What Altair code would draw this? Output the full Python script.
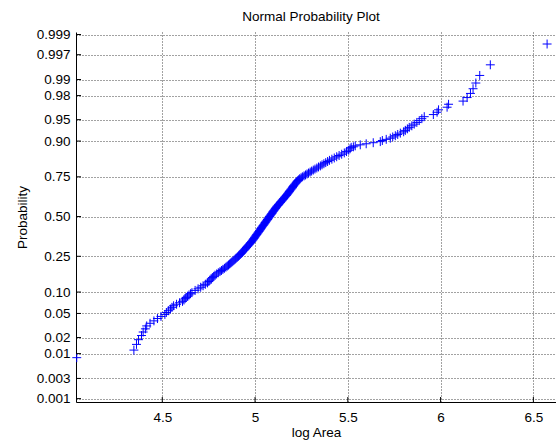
import altair as alt
import pandas as pd
from statistics import NormalDist

# ---- data (sorted sample values and their plotted probabilities) ----
lower_tail_x = [4.039, 4.347, 4.361, 4.372, 4.388, 4.397, 4.409, 4.416, 4.434, 4.455,
                4.474, 4.493, 4.514, 4.522, 4.533, 4.544, 4.552, 4.561, 4.577, 4.593,
                4.609, 4.617, 4.623, 4.628, 4.636, 4.644, 4.652, 4.660]
lower_tail_p = [0.0083, 0.0117, 0.0150, 0.0183, 0.0217, 0.0250, 0.0283, 0.0317, 0.0350, 0.0383,
                0.0417, 0.0450, 0.0483, 0.0517, 0.0550, 0.0583, 0.0617, 0.0650, 0.0683, 0.0717,
                0.0750, 0.0783, 0.0817, 0.0850, 0.0883, 0.0917, 0.0950, 0.0983]

middle_x = [4.693, 4.720, 4.744, 4.757, 4.770, 4.784, 4.802, 4.819, 4.835, 4.850,
            4.863, 4.875, 4.887, 4.898, 4.910, 4.920, 4.929, 4.937, 4.946, 4.954,
            4.962, 4.970, 4.977, 4.985, 4.991, 4.997, 5.003, 5.009, 5.015, 5.021,
            5.027, 5.032, 5.038, 5.044, 5.050, 5.055, 5.061, 5.067, 5.072, 5.078,
            5.084, 5.090, 5.095, 5.101, 5.107, 5.113, 5.119, 5.126, 5.133, 5.140,
            5.147, 5.154, 5.161, 5.169, 5.175, 5.182, 5.188, 5.195, 5.202, 5.208,
            5.216, 5.223, 5.231, 5.241, 5.255, 5.272, 5.288, 5.305, 5.323, 5.342,
            5.361, 5.381, 5.401, 5.427, 5.453, 5.481, 5.505, 5.518]
middle_p = [0.11, 0.12, 0.13, 0.14, 0.15, 0.16, 0.17, 0.18, 0.19, 0.20,
            0.21, 0.22, 0.23, 0.24, 0.25, 0.26, 0.27, 0.28, 0.29, 0.30,
            0.31, 0.32, 0.33, 0.34, 0.35, 0.36, 0.37, 0.38, 0.39, 0.40,
            0.41, 0.42, 0.43, 0.44, 0.45, 0.46, 0.47, 0.48, 0.49, 0.50,
            0.51, 0.52, 0.53, 0.54, 0.55, 0.56, 0.57, 0.58, 0.59, 0.60,
            0.61, 0.62, 0.63, 0.64, 0.65, 0.66, 0.67, 0.68, 0.69, 0.70,
            0.71, 0.72, 0.73, 0.74, 0.75, 0.76, 0.77, 0.78, 0.79, 0.80,
            0.81, 0.82, 0.83, 0.84, 0.85, 0.86, 0.87, 0.88]

middle2_x = [4.677, 4.707, 4.732, 4.751, 4.764, 4.777, 4.793, 4.811, 4.827, 4.843,
             4.857, 4.869, 4.881, 4.893, 4.904, 4.915, 4.925, 4.933, 4.942, 4.950,
             4.958, 4.966, 4.974, 4.981, 4.988, 4.994, 5.000, 5.006, 5.012, 5.018,
             5.024, 5.030, 5.035, 5.041, 5.047, 5.053, 5.058, 5.064, 5.070, 5.075,
             5.081, 5.087, 5.093, 5.098, 5.104, 5.110, 5.116, 5.123, 5.130, 5.137,
             5.144, 5.151, 5.158, 5.165, 5.172, 5.179, 5.185, 5.192, 5.199, 5.205,
             5.212, 5.220, 5.227, 5.236, 5.248, 5.264, 5.280, 5.297, 5.314, 5.333,
             5.352, 5.371, 5.391, 5.414, 5.440, 5.467, 5.493, 5.512]
middle2_p = [0.105, 0.115, 0.125, 0.135, 0.145, 0.155, 0.165, 0.175, 0.185, 0.195,
             0.205, 0.215, 0.225, 0.235, 0.245, 0.255, 0.265, 0.275, 0.285, 0.295,
             0.305, 0.315, 0.325, 0.335, 0.345, 0.355, 0.365, 0.375, 0.385, 0.395,
             0.405, 0.415, 0.425, 0.435, 0.445, 0.455, 0.465, 0.475, 0.485, 0.495,
             0.505, 0.515, 0.525, 0.535, 0.545, 0.555, 0.565, 0.575, 0.585, 0.595,
             0.605, 0.615, 0.625, 0.635, 0.645, 0.655, 0.665, 0.675, 0.685, 0.695,
             0.705, 0.715, 0.725, 0.735, 0.745, 0.755, 0.765, 0.775, 0.785, 0.795,
             0.805, 0.815, 0.825, 0.835, 0.845, 0.855, 0.865, 0.875]

upper_tail_x = [5.530, 5.540, 5.567, 5.599, 5.637, 5.675, 5.686, 5.707, 5.729, 5.742,
                5.756, 5.769, 5.783, 5.801, 5.810, 5.821, 5.831, 5.845, 5.858, 5.872,
                5.885, 5.899, 5.912, 5.961, 5.981, 5.989, 6.035, 6.043, 6.121, 6.143,
                6.161, 6.175, 6.190, 6.211, 6.268, 6.574]
upper_tail_p = [0.8817, 0.8850, 0.8883, 0.8917, 0.8950, 0.8983, 0.9017, 0.9050, 0.9083, 0.9117,
                0.9150, 0.9183, 0.9217, 0.9250, 0.9283, 0.9317, 0.9350, 0.9383, 0.9417, 0.9450,
                0.9483, 0.9517, 0.9550, 0.9583, 0.9617, 0.9650, 0.9683, 0.9717, 0.9750, 0.9783,
                0.9817, 0.9850, 0.9883, 0.9917, 0.9950, 0.9983]

prob_ticks = [0.001, 0.003, 0.01, 0.02, 0.05, 0.10, 0.25, 0.50, 0.75, 0.90,
              0.95, 0.98, 0.99, 0.997, 0.999]
x_ticks = [4.5, 5, 5.5, 6, 6.5]

# ---- build tables ----
df = pd.DataFrame({
    "log_area": lower_tail_x + middle_x + middle2_x + upper_tail_x,
    "probability": lower_tail_p + middle_p + middle2_p + upper_tail_p,
})
nd = NormalDist()
z_ticks = [nd.inv_cdf(p) for p in prob_ticks]
ticks_y = pd.DataFrame({"p": prob_ticks})
ticks_x = pd.DataFrame({"v": x_ticks})

FONT = "Liberation Sans"
FS = 13.5
xscale = alt.Scale(domain=[4.035, 6.622], nice=False, zero=False)
yscale = alt.Scale(domain=[-3.148, 3.133], nice=False, zero=False)

label_expr = ("(cumulativeNormal(datum.value) < 0.005 || cumulativeNormal(datum.value) > 0.995) ? "
              "format(cumulativeNormal(datum.value), '.3f') : format(cumulativeNormal(datum.value), '.2f')")

common_axis = dict(
    grid=True, gridDash=[1, 2], gridColor="#444444", gridWidth=1,
    ticks=False, domainColor="black", domainWidth=1,
    labelFont=FONT, labelFontSize=FS, labelColor="black",
    titleFont=FONT, titleFontSize=FS, titleFontWeight="normal", titleColor="black",
    titleBaseline="alphabetic",
)

x_axis = alt.Axis(values=x_ticks, format="~g", title="log Area", titleY=34,
                  labelPadding=8, **common_axis)
y_axis = alt.Axis(values=z_ticks, labelExpr=label_expr, title="Probability",
                  labelPadding=6, titleX=-50, titleY=185, titleAngle=270,
                  titleAlign="center", **common_axis)

points = alt.Chart(df).transform_calculate(
    z="quantileNormal(datum.probability)"
).mark_point(
    shape="M-1,0L1,0M0,-1L0,1", filled=False, color="#0000ff",
    strokeWidth=1, size=80, opacity=1,
).encode(
    x=alt.X("log_area:Q", scale=xscale, axis=x_axis),
    y=alt.Y("z:Q", scale=yscale, axis=y_axis),
)

ytick = alt.Chart(ticks_y).transform_calculate(
    z="quantileNormal(datum.p)"
).mark_rule(color="black", strokeWidth=1).encode(
    y=alt.Y("z:Q", scale=yscale, axis=y_axis),
    x=alt.value(0), x2=alt.value(5),
)

xtick = alt.Chart(ticks_x).mark_rule(color="black", strokeWidth=1).encode(
    x=alt.X("v:Q", scale=xscale, axis=x_axis),
    y=alt.value(370), y2=alt.value(365),
)

chart = alt.layer(points, ytick, xtick).properties(
    width=480, height=370,
    title=alt.TitleParams("Normal Probability Plot", font=FONT, fontSize=FS,
                          fontWeight="normal", color="black", anchor="middle",
                          offset=4, dx=-5),
    autosize=alt.AutoSizeParams(type="none"),
    padding={"left": 76, "top": 32, "right": 0, "bottom": 45},
    background="white",
).configure_view(strokeWidth=0)

chart.save("out.html", embed_options={"renderer": "svg", "actions": False})
